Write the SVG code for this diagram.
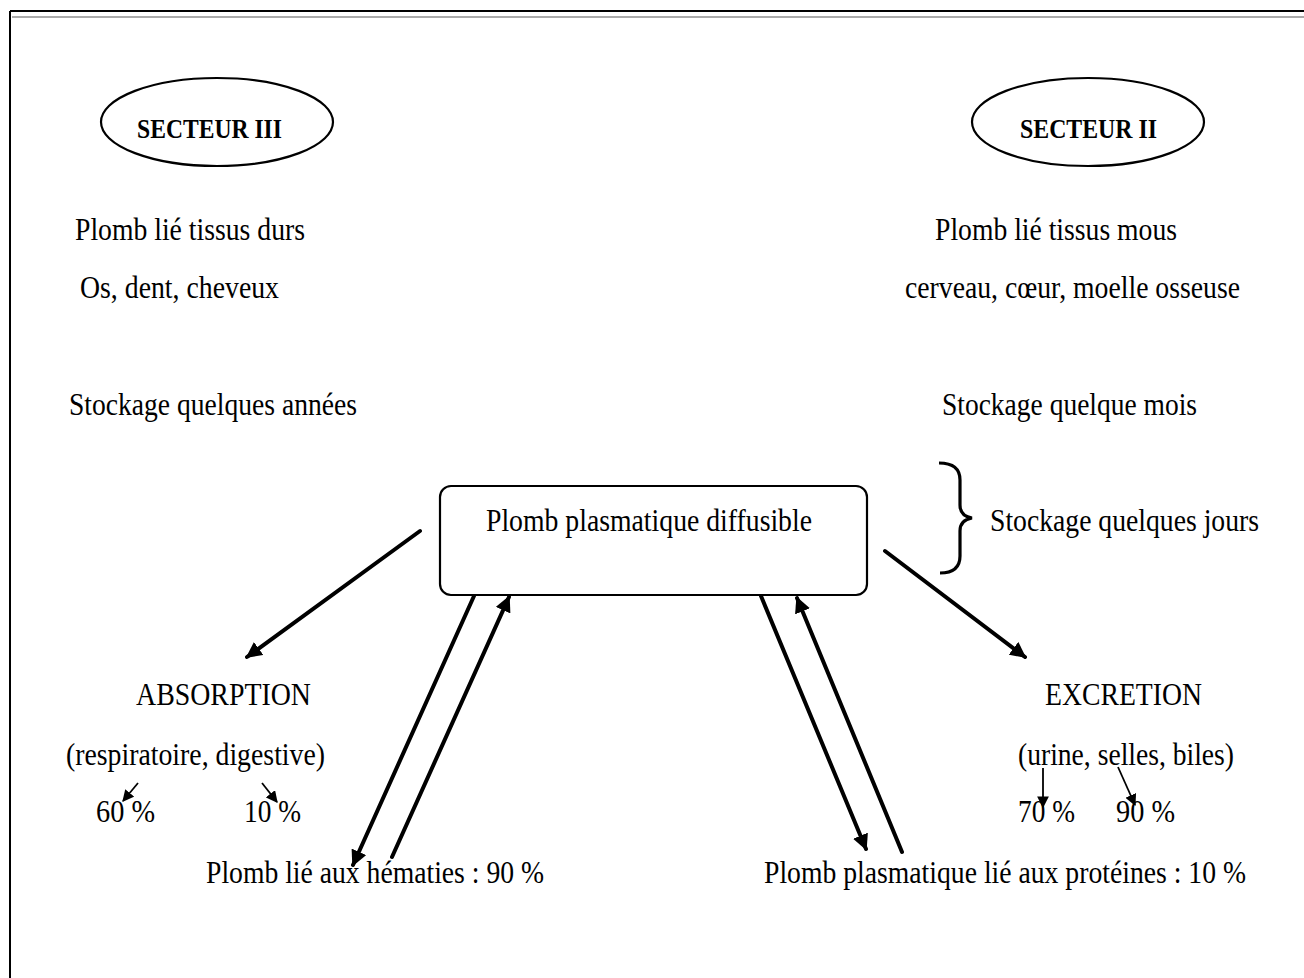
<svg xmlns="http://www.w3.org/2000/svg" width="1304" height="978" viewBox="0 0 1304 978">
<style>
text{font-family:"Liberation Serif","Times New Roman",serif;fill:#000;font-size:31px}
.b{font-weight:bold;font-size:27px}
.c{stroke:#000;stroke-width:4;fill:none;stroke-linecap:round}
.s{stroke:#000;stroke-width:1.8;fill:none}
.n{stroke:#000;stroke-width:2.2;fill:#fff}
</style>
<defs>
<marker id="ah" viewBox="0 0 10 10" refX="9" refY="5" markerWidth="4" markerHeight="4" orient="auto" markerUnits="strokeWidth">
<path d="M0,0 L10,5 L0,10 z" fill="#000"/>
</marker>
<marker id="as" viewBox="0 0 10 10" refX="9" refY="5" markerWidth="6.5" markerHeight="6.5" orient="auto" markerUnits="strokeWidth">
<path d="M0,0 L10,5 L0,10 z" fill="#000"/>
</marker>
</defs>
<rect width="1304" height="978" fill="#fff"/>
<g id="frame">
<line x1="10" y1="11" x2="1304" y2="11" stroke="#000" stroke-width="2"/>
<line x1="12" y1="17" x2="1304" y2="17" stroke="#aaa" stroke-width="2"/>
<line x1="10" y1="11" x2="10" y2="978" stroke="#000" stroke-width="2"/>
</g>
<g id="secteur3">
<ellipse class="n" cx="217" cy="122" rx="116" ry="44"/>
<text class="b" x="137" y="138" textLength="145" lengthAdjust="spacingAndGlyphs">SECTEUR III</text>
</g>
<g id="secteur2">
<ellipse class="n" cx="1088" cy="122" rx="116" ry="44"/>
<text class="b" x="1020" y="138" textLength="137" lengthAdjust="spacingAndGlyphs">SECTEUR II</text>
</g>
<g id="texte-secteur3">
<text x="75" y="240" textLength="230" lengthAdjust="spacingAndGlyphs">Plomb lié tissus durs</text>
<text x="80" y="298" textLength="199" lengthAdjust="spacingAndGlyphs">Os, dent, cheveux</text>
<text x="69" y="415" textLength="288" lengthAdjust="spacingAndGlyphs">Stockage quelques années</text>
</g>
<g id="texte-secteur2">
<text x="935" y="240" textLength="242" lengthAdjust="spacingAndGlyphs">Plomb lié tissus mous</text>
<text x="905" y="298" textLength="335" lengthAdjust="spacingAndGlyphs">cerveau, cœur, moelle osseuse</text>
<text x="942" y="415" textLength="255" lengthAdjust="spacingAndGlyphs">Stockage quelque mois</text>
</g>
<g id="plomb-diffusible">
<rect class="n" x="440" y="486" width="427" height="109" rx="11"/>
<text x="486" y="531" textLength="326" lengthAdjust="spacingAndGlyphs">Plomb plasmatique diffusible</text>
</g>
<g id="stockage-jours">
<path d="M939,463 Q960,463 960,480 L960,505 Q960,516 972,518 Q960,520 960,531 L960,556 Q960,573 940,573" stroke="#000" stroke-width="3.2" fill="none"/>
<text x="990" y="531" textLength="269" lengthAdjust="spacingAndGlyphs">Stockage quelques jours</text>
</g>
<g id="absorption">
<text x="136" y="705" textLength="175" lengthAdjust="spacingAndGlyphs">ABSORPTION</text>
<text x="66" y="765" textLength="259" lengthAdjust="spacingAndGlyphs">(respiratoire, digestive)</text>
<text x="96" y="822" textLength="59" lengthAdjust="spacingAndGlyphs">60 %</text>
<text x="244" y="822" textLength="57" lengthAdjust="spacingAndGlyphs">10 %</text>
</g>
<g id="excretion">
<text x="1045" y="705" textLength="157" lengthAdjust="spacingAndGlyphs">EXCRETION</text>
<text x="1018" y="765" textLength="216" lengthAdjust="spacingAndGlyphs">(urine, selles, biles)</text>
<text x="1018" y="822" textLength="57" lengthAdjust="spacingAndGlyphs">70 %</text>
<text x="1116" y="822" textLength="59" lengthAdjust="spacingAndGlyphs">90 %</text>
</g>
<g id="hematies">
<text x="206" y="883" textLength="338" lengthAdjust="spacingAndGlyphs">Plomb lié aux hématies : 90 %</text>
</g>
<g id="proteines">
<text x="764" y="883" textLength="482" lengthAdjust="spacingAndGlyphs">Plomb plasmatique lié aux protéines : 10 %</text>
</g>
<g id="connecteurs">
<line class="c" x1="420" y1="531" x2="247" y2="657" marker-end="url(#ah)"/>
<line class="c" x1="885" y1="551" x2="1025" y2="657" marker-end="url(#ah)"/>
<line class="c" x1="474" y1="596" x2="353" y2="865" marker-end="url(#ah)"/>
<line class="c" x1="392" y1="857" x2="509" y2="597" marker-end="url(#ah)"/>
<line class="c" x1="761" y1="596" x2="866" y2="849" marker-end="url(#ah)"/>
<line class="c" x1="902" y1="852" x2="797" y2="598" marker-end="url(#ah)"/>
<line class="s" x1="138" y1="783" x2="123" y2="801" marker-end="url(#as)"/>
<line class="s" x1="262" y1="783" x2="277" y2="802" marker-end="url(#as)"/>
<line class="s" x1="1043" y1="768" x2="1043" y2="807" marker-end="url(#as)"/>
<line class="s" x1="1118" y1="767" x2="1135" y2="805" marker-end="url(#as)"/>
</g>
</svg>
